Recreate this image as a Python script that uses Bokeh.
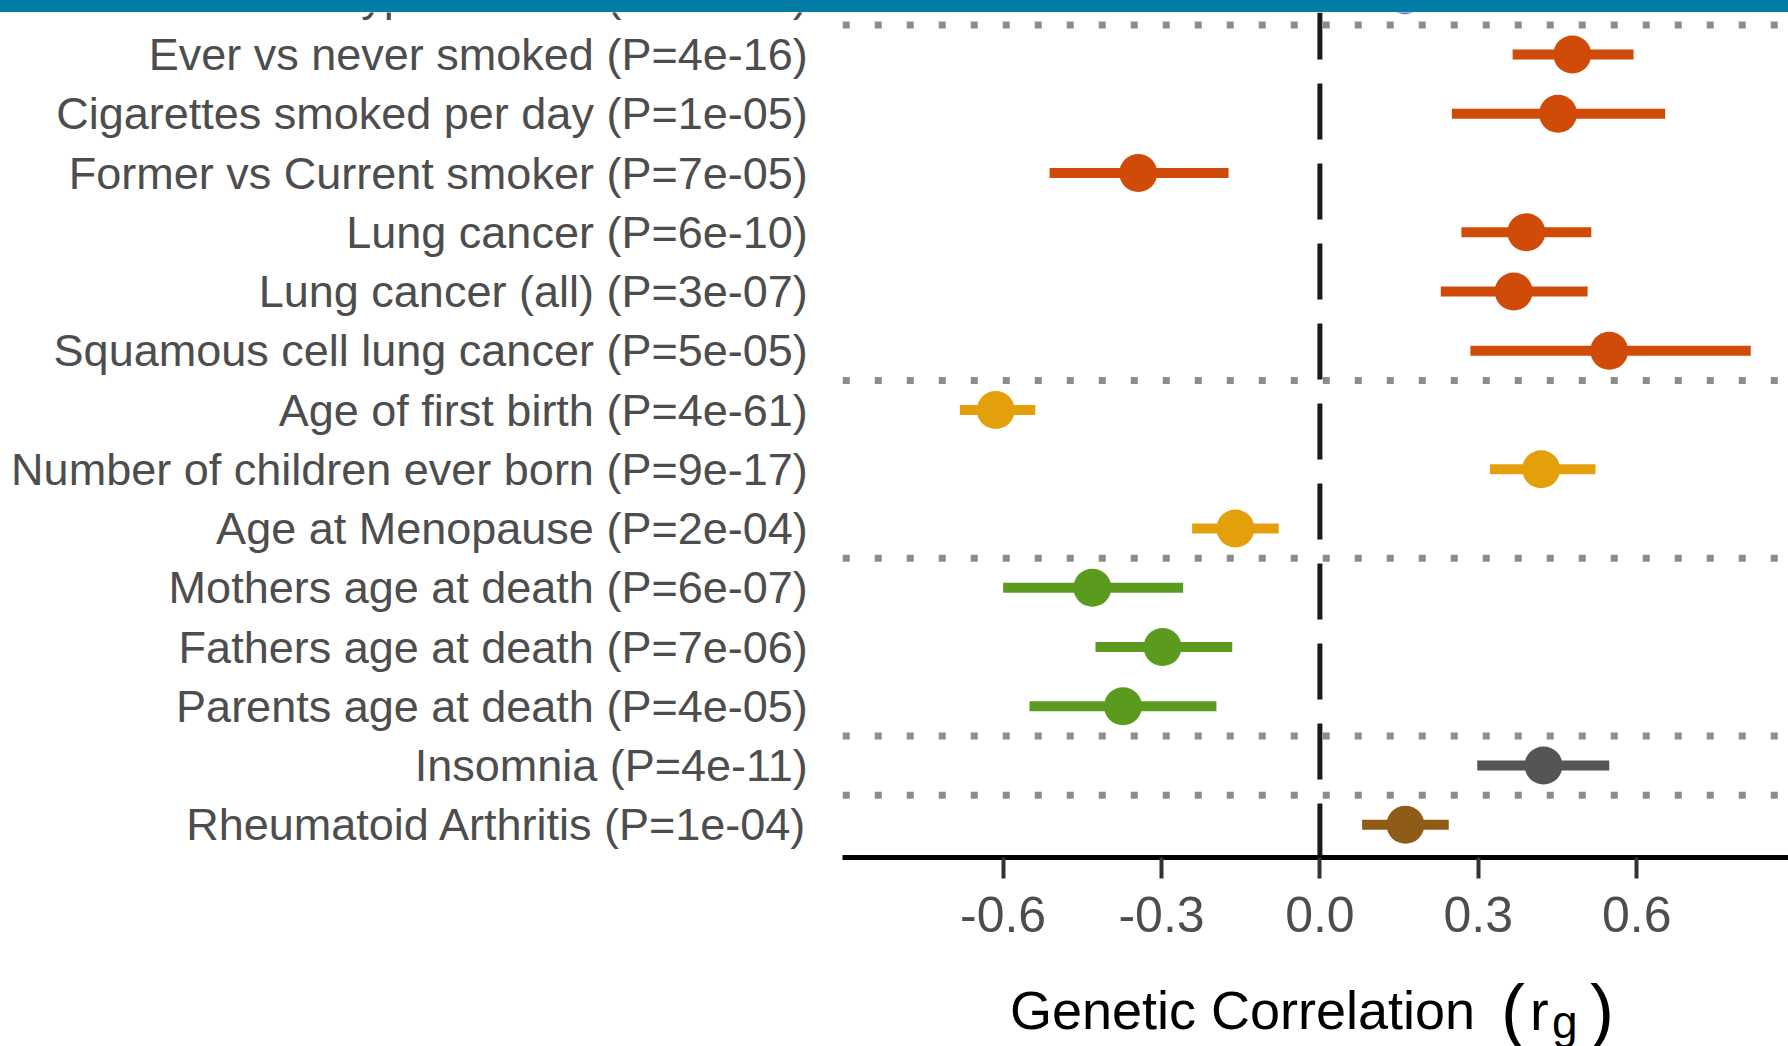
from bokeh.plotting import figure
from bokeh.models import (ColumnDataSource, Range1d, FixedTicker, Label, Div)
from bokeh.core.properties import value
from bokeh.layouts import column
from bokeh.embed import file_html
from bokeh.resources import INLINE

# Traits, top to bottom (first row sits under the page banner)
traits = [
    "Hypertension (P=2e-05)",
    "Ever vs never smoked (P=4e-16)",
    "Cigarettes smoked per day (P=1e-05)",
    "Former vs Current smoker (P=7e-05)",
    "Lung cancer (P=6e-10)",
    "Lung cancer (all) (P=3e-07)",
    "Squamous cell lung cancer (P=5e-05)",
    "Age of first birth (P=4e-61)",
    "Number of children ever born (P=9e-17)",
    "Age at Menopause (P=2e-04)",
    "Mothers age at death (P=6e-07)",
    "Fathers age at death (P=7e-06)",
    "Parents age at death (P=4e-05)",
    "Insomnia (P=4e-11)",
    "Rheumatoid Arthritis (P=1e-04)",
]
rg = [0.161, 0.478, 0.451, -0.344, 0.391, 0.367, 0.548, -0.614, 0.419, -0.160,
      -0.431, -0.298, -0.373, 0.4235, 0.162]
ci_low = [0.06, 0.365, 0.250, -0.512, 0.268, 0.229, 0.285, -0.682, 0.322, -0.242,
          -0.600, -0.425, -0.550, 0.298, 0.080]
ci_high = [0.26, 0.594, 0.654, -0.173, 0.514, 0.507, 0.816, -0.539, 0.522, -0.078,
           -0.259, -0.166, -0.196, 0.548, 0.244]
groups = ["cardio", "smoking", "smoking", "smoking", "smoking", "smoking", "smoking",
          "reproductive", "reproductive", "reproductive",
          "longevity", "longevity", "longevity", "sleep", "autoimmune"]
group_colors = {
    "cardio": "#6f6ab2",
    "smoking": "#cf4b07",
    "reproductive": "#e3a00b",
    "longevity": "#5a9b1e",
    "sleep": "#555555",
    "autoimmune": "#8e5c17",
}
# group boundaries (between rows)
separators = [0.5, 6.5, 9.5, 12.5, 13.5]
x_ticks = [-0.6, -0.3, 0.0, 0.3, 0.6]
x_tick_labels = ["-0.6", "-0.3", "0.0", "0.3", "0.6"]

# panel extent in data units; the canvas also holds the labels around it
PANEL_X = (-0.9037, 0.8875)
PANEL_Y = (0.2911, 14.553)          # top, bottom (rows run downwards)
CANVAS_X = (-2.4989, 0.8875)
CANVAS_Y = (17.742, 0.2911)         # bottom, top

rows = list(range(len(traits)))
src = ColumnDataSource(dict(
    y=rows, rg=rg, lo=ci_low, hi=ci_high,
    color=[group_colors[g] for g in groups],
))

FONT = "Liberation Sans"

p = figure(width=1788, height=1034, output_backend="svg", toolbar_location=None,
           x_range=Range1d(*CANVAS_X), y_range=Range1d(*CANVAS_Y),
           min_border=0)
p.outline_line_color = None
p.xgrid.visible = False
p.ygrid.visible = False
p.yaxis.visible = False
p.background_fill_color = "white"
p.border_fill_color = "white"

# zero reference line, from the panel top down to the axis
p.segment(x0=[0], y0=[PANEL_Y[0]], x1=[0], y1=[PANEL_Y[1]], line_color="#1a1a1a",
          line_width=5, line_dash="56 24", line_dash_offset=9, line_cap="butt")

# dotted group separators
p.segment(x0=[PANEL_X[0]] * len(separators), y0=separators,
          x1=[PANEL_X[1]] * len(separators), y1=separators,
          line_color="#8c8c8c", line_width=7, line_dash="7 25", line_cap="butt")

# confidence intervals and estimates
p.segment(x0="lo", y0="y", x1="hi", y1="y", source=src, line_color="color",
          line_width=10, line_cap="butt")
p.scatter(x="rg", y="y", source=src, size=38, fill_color="color",
          line_color="color", line_width=0)

# trait names to the left of the panel
p.text(x=[PANEL_X[0]] * len(traits), y=rows, text=traits, x_offset=-35,
       text_align="right", text_baseline="middle", text_font=value(FONT),
       text_font_size=value("45px"), text_color="#4d4d4d")

# x axis drawn along the panel bottom
xa = p.xaxis[0]
xa.fixed_location = PANEL_Y[1]
xa.bounds = PANEL_X
xa.ticker = FixedTicker(ticks=x_ticks)
xa.major_label_overrides = {t: l for t, l in zip(x_ticks, x_tick_labels)}
xa.axis_line_width = 5
xa.axis_line_color = "black"
xa.major_tick_out = 21
xa.major_tick_in = 0
xa.major_tick_line_width = 4
xa.major_tick_line_color = "#333333"
xa.minor_tick_line_color = None
xa.major_label_text_font = FONT
xa.major_label_text_font_size = "50px"
xa.major_label_text_color = "#4d4d4d"
xa.major_label_standoff = 18

# axis title: Genetic Correlation (r with subscript g)
title_y = 17.13
title_parts = [
    # text, x offset (px), y offset (px), font size
    ("Genetic Correlation", -310, 0, "54px"),
    ("(", 181, 0, "72px"),
    ("r", 210, 0, "56px"),
    ("g", 232, -12, "46px"),
    (")", 270, 0, "72px"),
]
for txt, dx, dy, size in title_parts:
    p.add_layout(Label(x=0, y=title_y, x_offset=dx, y_offset=dy, text=txt,
                       text_align="left", text_baseline="alphabetic",
                       text_font=FONT, text_font_size=size, text_color="black"))

banner = Div(text="", width=1788, height=12, margin=0,
             styles={"background-color": "#037ca6"})

layout = column(banner, p, spacing=0)

html = file_html(layout, INLINE)
html = html.replace("<head>", "<head><style>body{margin:0;padding:0;}</style>", 1)
open("out.html", "w").write(html)
